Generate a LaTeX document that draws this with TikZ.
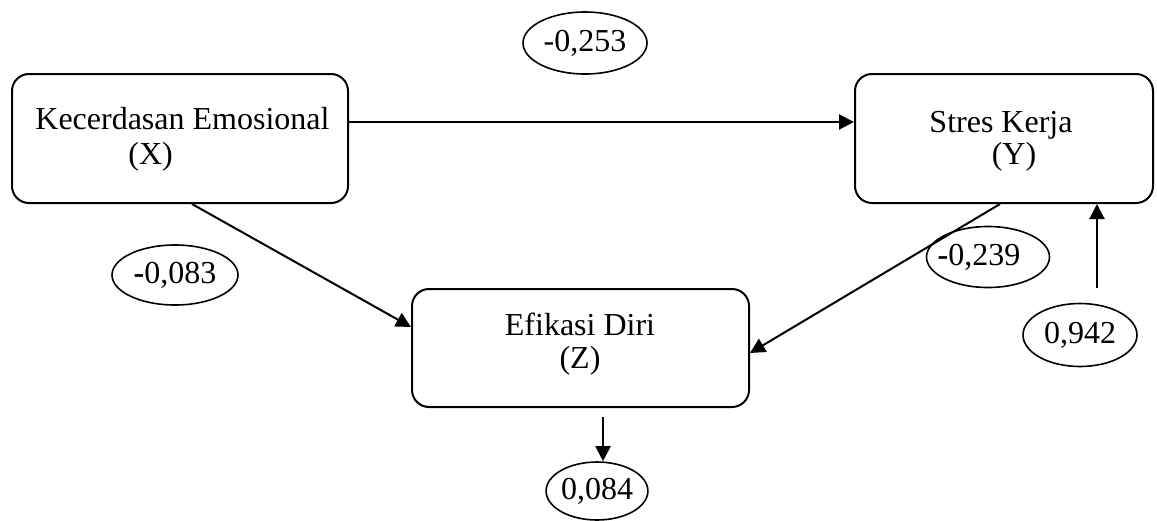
\documentclass[tikz,border=0pt]{standalone}
\usepackage{fontspec}
\setmainfont{Liberation Serif}
\usetikzlibrary{arrows.meta,shapes.geometric}

\tikzset{
  varbox/.style={draw=black, line width=1pt, rounded corners=8.5pt, inner sep=0pt},
  lbl/.style={inner sep=0pt, font=\fontsize{16}{19}\selectfont},
  coef/.style={ellipse, draw=black, line width=0.8pt, inner sep=0pt,
               font=\fontsize{16}{19}\selectfont},
  arr/.style={line width=1pt, -{Triangle[length=7.5pt,width=7.5pt]}}
}

\begin{document}
% coordinates are given in units of 0.5pt, y growing downwards
\begin{tikzpicture}[x=0.5pt,y=-0.5pt]
\useasboundingbox (0,0) rectangle (1157,520);

% variable boxes
\node[varbox, minimum width=168pt, minimum height=64.5pt] (X) at (180,138.5) {};
\node[varbox, minimum width=149pt, minimum height=64.5pt] (Y) at (1004,138.5) {};
\node[varbox, minimum width=168.5pt, minimum height=59pt] (Z) at (580.5,348) {};

% box labels
\node[lbl, anchor=base west] (Xa) at (35,129) {Kecerdasan Emosional};
\node[lbl, anchor=base west] (Xb) at (128,164) {(X)};
\node[lbl, anchor=base] (Ya) at (1001,132) {Stres Kerja};
\node[lbl, anchor=base] (Yb) at (1014,164) {(Y)};
\node[lbl, anchor=base] (Za) at (580,335) {Efikasi Diri};
\node[lbl, anchor=base] (Zb) at (580,368) {(Z)};

% path coefficients
\node[coef, minimum width=62pt, minimum height=31pt] (e253) at (585,43) {-0,253};
\node[coef, minimum width=63pt, minimum height=30pt] (e083) at (175,275) {\textbf{-}0,083};
\node[coef, minimum width=61.5pt, minimum height=30.5pt] (e239) at (988,257) {\hspace*{-9pt}\textbf{-}0,239};
\node[coef, minimum width=57pt, minimum height=31.5pt] (e942) at (1080,335) {0,942};
\node[coef, minimum width=50pt, minimum height=29pt] (e084) at (597,491) {0,084};

% free ends of the residual arrows
\coordinate (c942) at (1097,288);
\coordinate (c084) at (603,417);

% connectors
\draw[arr] ([yshift=8.25pt]X.east) -- ([yshift=8.25pt]Y.west);
\draw[arr] ([xshift=6pt]X.south) -- ([yshift=10.5pt]Z.west);
\draw[arr] ([xshift=-2pt]Y.south) -- ([yshift=-2.5pt]Z.east);
\draw[arr] (c942) -- (c942 |- Y.south);
\draw[arr] (c084) -- (c084 |- e084.north);
\end{tikzpicture}
\end{document}
